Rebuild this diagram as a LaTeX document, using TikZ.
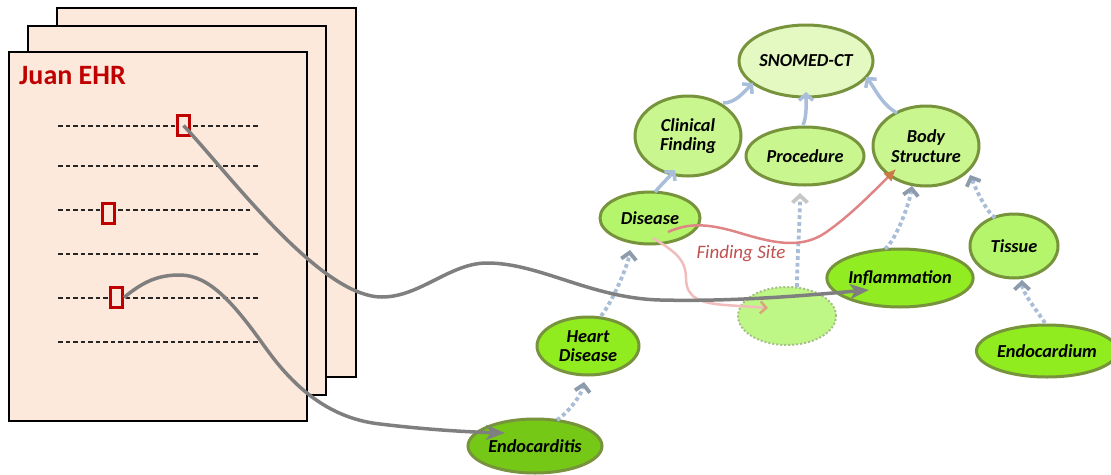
\documentclass[tikz,border=0pt]{standalone}
\usepackage{fontspec}
\setmainfont{Carlito}
\usetikzlibrary{shapes.geometric,arrows.meta,calc}

\definecolor{pagefill}{HTML}{FDE9DB}
\definecolor{ehrred}{HTML}{C00000}
\definecolor{conceptborder}{HTML}{77933C}
\definecolor{rootfill}{HTML}{E4F9C2}
\definecolor{topfill}{HTML}{C9F68F}
\definecolor{midfill}{HTML}{B5F56C}
\definecolor{leaffill}{HTML}{90EC1E}
\definecolor{deepfill}{HTML}{76C816}
\definecolor{sitefill}{HTML}{BFF787}
\definecolor{siteborder}{HTML}{A6BF86}
\definecolor{isablue}{HTML}{A8BEDA}
\definecolor{depblue}{HTML}{A9BDD6}
\definecolor{deptip}{HTML}{8D9BAD}
\definecolor{linkgray}{HTML}{7F7F7F}
\definecolor{fsred}{HTML}{C0504D}
\definecolor{fsline}{HTML}{E08585}
\definecolor{fstip}{HTML}{CC7A45}
\definecolor{fsfaint}{HTML}{F0BCBC}
\definecolor{fsfainttip}{HTML}{D9A57A}

\begin{document}
\begin{tikzpicture}[x=1pt,y=-1pt,
  page/.style={fill=pagefill,draw=black,line width=2.4pt},
  ehrline/.style={draw=black!85,line width=1.4pt,dash pattern=on 4.5pt off 3pt},
  hitbox/.style={draw=ehrred,fill=pagefill,line width=3pt,minimum width=12pt,minimum height=20pt,inner sep=0pt},
  concept/.style={ellipse,draw=conceptborder,line width=3pt,inner sep=0pt,align=center,
    font=\bfseries\itshape\fontsize{18.3}{19.5}\selectfont},
  isa/.style={draw=isablue,line width=3.5pt,-{Straight Barb[length=6pt,width=14pt]}},
  dep/.style={draw=depblue,line width=3.8pt,dash pattern=on 3.8pt off 3pt,
    -{Straight Barb[length=7pt,width=15pt,color=deptip]}},
  link/.style={draw=linkgray,line width=3.5pt,-{Stealth[length=19pt,width=15pt,inset=5pt]}}
]
\useasboundingbox (0,0) rectangle (1111,474);

% stack of record pages
\draw[page] (57,8) rectangle (356,377);
\draw[page] (28,26) rectangle (326,395);
\draw[page] (9,52) rectangle (307,421);
\node[anchor=west,text=ehrred,font=\bfseries\fontsize{28}{30}\selectfont,inner sep=0pt] (title) at (19,76) {Juan EHR};
\foreach \y/\xe in {126/260,166/260,210/250,254/260,298/260,342/260}
  \draw[ehrline] (58,\y) -- (\xe,\y);
\node[hitbox] (b1) at (183.5,125.5) {};
\node[hitbox] (b2) at (108,213) {};
\node[hitbox] (b3) at (116.5,297.5) {};

% concept hierarchy
\node[concept,fill=rootfill,minimum width=134pt,minimum height=72pt] (sct) at (806,61) {SNOMED-CT};
\node[concept,fill=topfill,minimum width=106pt,minimum height=80pt] (cf) at (688,136) {Clinical\\Finding};
\node[concept,fill=topfill,minimum width=118pt,minimum height=58pt] (proc) at (805,156) {Procedure};
\node[concept,fill=topfill,minimum width=106pt,minimum height=80pt] (body) at (926,146) {Body\\Structure};
\node[concept,fill=midfill,minimum width=100pt,minimum height=52pt] (dis) at (650,218) {Disease};
\node[concept,fill=leaffill,minimum width=102pt,minimum height=58pt] (hd) at (588,346) {Heart\\Disease};
\node[concept,fill=deepfill,minimum width=134pt,minimum height=54pt] (endo) at (535,446) {Endocarditis};
\node[concept,fill=leaffill!95!midfill,minimum width=134pt,minimum height=58pt] (infl) at (900,278) {Inflammation};
\node[concept,fill=midfill,minimum width=88pt,minimum height=64pt] (tis) at (1014,246) {Tissue};
\node[concept,fill=leaffill,minimum width=124pt,minimum height=52pt] (endm) at (1047,351) {Endocardium};
\node[ellipse,fill=sitefill,draw=siteborder,line width=2pt,dash pattern=on 2pt off 2pt,
  minimum width=98pt,minimum height=58pt] (site) at (787,316) {};

% is-a links
\draw[isa] ($(cf.center)+(35,-33)$) .. controls +(12,0) and +(-10,10) .. ($(sct.center)+(-53,22)$);
\draw[isa] ($(proc.center)+(-2,-31)$) .. controls +(4,-8) and +(0,10) .. ($(sct.center)+(0,31)$);
\draw[isa] ($(body.center)+(-29,-33)$) .. controls +(-15,-8) and +(8,10) .. ($(sct.center)+(60,16)$);
\draw[isa] ($(dis.center)+(5,-26)$) .. controls +(5,-6) and +(-5,6) .. ($(cf.center)+(-13,34)$);

% dotted links
\draw[dep] ($(hd.center)+(13,-30)$) .. controls +(12,-15) and +(-2,15) .. ($(dis.center)+(-20,32)$);
\draw[dep] ($(endo.center)+(22,-26)$) .. controls +(12,-8) and +(-2,12) .. ($(hd.center)+(-4,36)$);
\draw[dep,-{Straight Barb[length=7pt,width=15pt,color=black!22]}] ($(site.center)+(10,-29)$) .. controls +(0,-30) and +(0,30) .. ($(proc.center)+(-5,37)$);
\draw[dep] ($(infl.center)+(-15,-29)$) .. controls +(12,-10) and +(-2,15) .. ($(body.center)+(-14,40)$);
\draw[dep] ($(tis.center)+(-19,-28)$) .. controls +(-10,-8) and +(5,12) .. ($(body.center)+(44,29)$);
\draw[dep] ($(endm.center)+(-2,-28)$) .. controls +(-8,-12) and +(0,12) .. ($(tis.center)+(8,34)$);

% finding site relation
\draw[draw=fsfaint,line width=2.5pt,-{Straight Barb[length=6pt,width=12pt,color=fsfainttip]}]
  ($(dis.center)+(3,20)$) .. controls (672,250) and (686,258) .. (686,278)
  .. controls (686,298) and (700,303) .. (725,305)
  .. controls (740,306) and (755,307) .. ($(site.center)+(-19,-8)$);
\draw[draw=fsline,line width=2.5pt,-{Latex[length=12pt,width=12pt,color=fstip]}]
  ($(dis.center)+(18,14)$) .. controls (690,222) and (710,224) .. (740,233)
  .. controls (770,242) and (800,250) .. (825,233)
  .. controls (850,216) and (875,190) .. ($(body.center)+(-30,23)$);
\node[text=fsred,font=\itshape\fontsize{19}{21}\selectfont] (fslabel) at (741,254) {Finding Site};

% record annotations mapped to concepts
\draw[link] (b1.center) .. controls (230,175) and (320,297) .. (382,297)
  .. controls (420,297) and (450,263) .. (487,263)
  .. controls (540,263) and (590,298) .. (660,300)
  .. controls (740,302) and (820,294) .. ($(infl.center)+(-31,12)$);
\draw[link] (b3.east) .. controls (145,280) and (160,275) .. (180,275)
  .. controls (210,275) and (235,305) .. (265,347)
  .. controls (290,382) and (325,418) .. (380,424)
  .. controls (430,430) and (470,432) .. ($(endo.center)+(-30,-13)$);
\end{tikzpicture}
\end{document}
